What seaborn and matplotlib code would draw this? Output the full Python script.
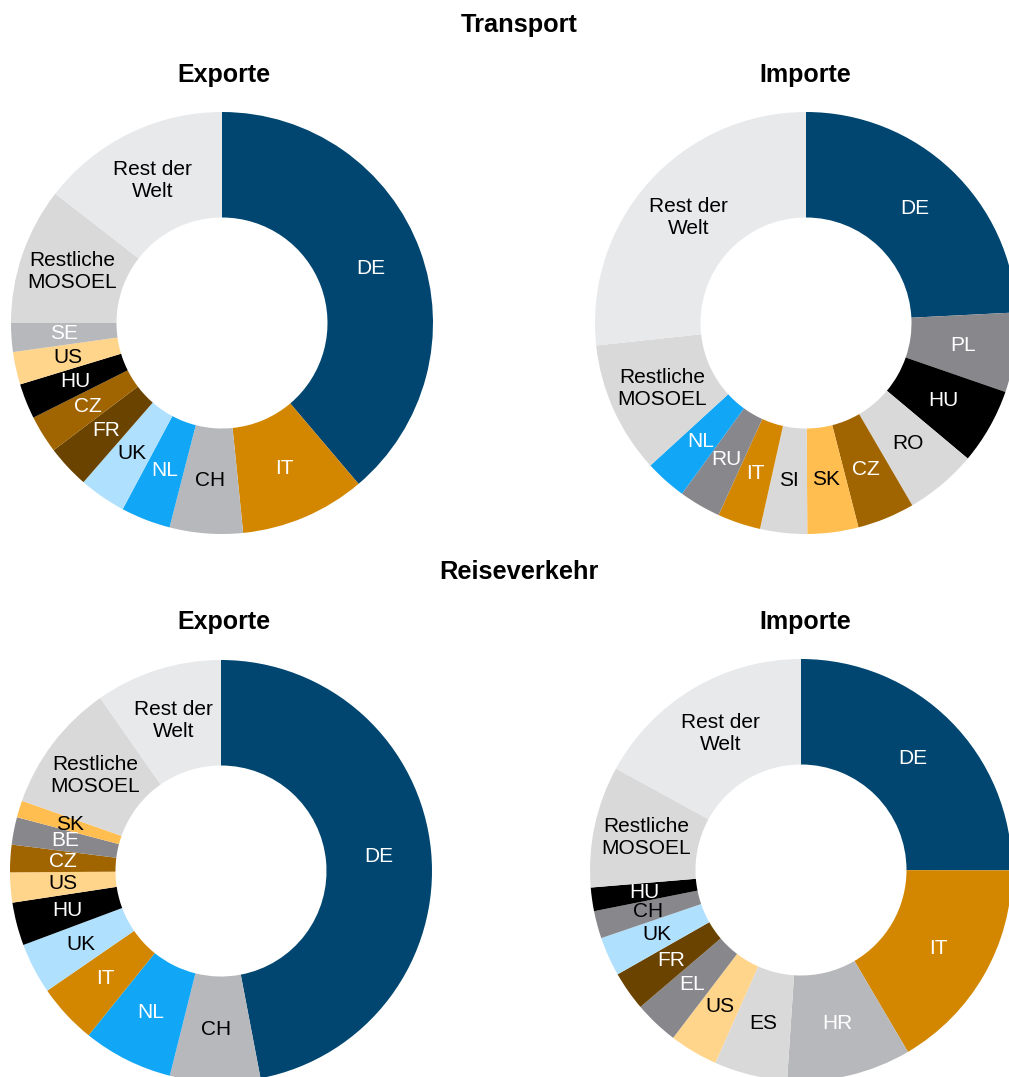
import numpy as np
import matplotlib
matplotlib.use("Agg")
import matplotlib.pyplot as plt
import seaborn as sns

# Transport - Exporte
tr_exp_labels = ["DE", "IT", "CH", "NL", "UK", "FR", "CZ", "HU", "US", "SE",
                 "Restliche\nMOSOEL", "Rest der\nWelt"]
tr_exp_values = [38.8, 9.6, 5.6, 3.8, 3.6, 3.3, 2.9, 2.7, 2.5, 2.2, 10.5, 14.5]

# Transport - Importe
tr_imp_labels = ["DE", "PL", "HU", "RO", "CZ", "SK", "SI", "IT", "RU", "NL",
                 "Restliche\nMOSOEL", "Rest der\nWelt"]
tr_imp_values = [24.2, 6.1, 5.8, 5.5, 4.4, 3.9, 3.6, 3.3, 3.2, 3.2, 10.1, 26.7]

# Reiseverkehr - Exporte
rv_exp_labels = ["DE", "CH", "NL", "IT", "UK", "HU", "US", "CZ", "BE", "SK",
                 "Restliche\nMOSOEL", "Rest der\nWelt"]
rv_exp_values = [47.0, 6.9, 6.9, 4.6, 3.9, 3.3, 2.3, 2.1, 2.1, 1.3, 9.9, 9.7]

# Reiseverkehr - Importe
rv_imp_labels = ["DE", "IT", "HR", "ES", "US", "EL", "FR", "UK", "CH", "HU",
                 "Restliche\nMOSOEL", "Rest der\nWelt"]
rv_imp_values = [25.0, 16.5, 9.5, 5.6, 3.7, 3.4, 3.0, 3.0, 2.1, 1.8, 9.3, 17.0]

# Farben
DBLUE = "#004670"
ORANGE = "#d38700"
LGRAY = "#b7b8bb"
BLUE = "#12a6f7"
LBLUE = "#afe0fd"
DBROWN = "#6a4300"
BROWN = "#a06400"
BLACK = "#000000"
LORANGE = "#ffd48b"
SGRAY = "#88878c"
MGRAY = "#d9d9d9"
VLGRAY = "#e8e9eb"
YORANGE = "#ffbe4f"

tr_exp_colors = [DBLUE, ORANGE, LGRAY, BLUE, LBLUE, DBROWN, BROWN, BLACK, LORANGE, LGRAY, MGRAY, VLGRAY]
tr_imp_colors = [DBLUE, SGRAY, BLACK, MGRAY, BROWN, YORANGE, MGRAY, ORANGE, SGRAY, BLUE, MGRAY, VLGRAY]
rv_exp_colors = [DBLUE, LGRAY, BLUE, ORANGE, LBLUE, BLACK, LORANGE, BROWN, SGRAY, YORANGE, MGRAY, VLGRAY]
rv_imp_colors = [DBLUE, ORANGE, LGRAY, MGRAY, LORANGE, SGRAY, DBROWN, LBLUE, SGRAY, BLACK, MGRAY, VLGRAY]

W, K = "white", "black"
tr_exp_text = [W, W, K, W, K, W, W, W, K, W, K, K]
tr_imp_text = [W, W, W, K, W, K, K, W, W, W, K, K]
rv_exp_text = [W, K, W, W, K, W, K, W, W, K, K, K]
rv_imp_text = [W, W, W, K, K, W, W, K, K, W, K, K]

sns.set_theme(style="white")
plt.rcParams['font.family'] = ['Liberation Sans', 'DejaVu Sans']
plt.rcParams['text.color'] = 'black'

FW, FH = 1009, 1077
fig = plt.figure(figsize=(FW / 100, FH / 100), dpi=100)
R = 211


def donut(cx, cy, values, labels, colors, text_colors):
    ax = fig.add_axes([(cx - R) / FW, (FH - cy - R) / FH, 2 * R / FW, 2 * R / FH])
    wedges, _ = ax.pie(values, colors=colors, startangle=90, counterclock=False,
                       radius=1, wedgeprops=dict(width=0.5, linewidth=0))
    for w, lab, tc in zip(wedges, labels, text_colors):
        ang = np.deg2rad((w.theta1 + w.theta2) / 2)
        ax.text(0.75 * np.cos(ang), 0.75 * np.sin(ang), lab, ha="center", va="center",
                color=tc, fontsize=15, linespacing=1.2)
    ax.set_xlim(-1, 1)
    ax.set_ylim(-1, 1)
    ax.set_aspect("equal")
    ax.axis("off")
    return ax


donut(222, 323, tr_exp_values, tr_exp_labels, tr_exp_colors, tr_exp_text)
donut(806, 323, tr_imp_values, tr_imp_labels, tr_imp_colors, tr_imp_text)
donut(221, 871, rv_exp_values, rv_exp_labels, rv_exp_colors, rv_exp_text)
donut(801, 870, rv_imp_values, rv_imp_labels, rv_imp_colors, rv_imp_text)

# Überschriften
fig.text(519 / FW, 1 - 25 / FH, "Transport", ha="center", va="center", fontsize=18.3, fontweight="bold")
fig.text(519 / FW, 1 - 572 / FH, "Reiseverkehr", ha="center", va="center", fontsize=18.3, fontweight="bold")
for y in (75, 622):
    fig.text(224 / FW, 1 - y / FH, "Exporte", ha="center", va="center", fontsize=18, fontweight="bold")
    fig.text(805 / FW, 1 - y / FH, "Importe", ha="center", va="center", fontsize=18, fontweight="bold")

fig.savefig("out.png", dpi=100)
